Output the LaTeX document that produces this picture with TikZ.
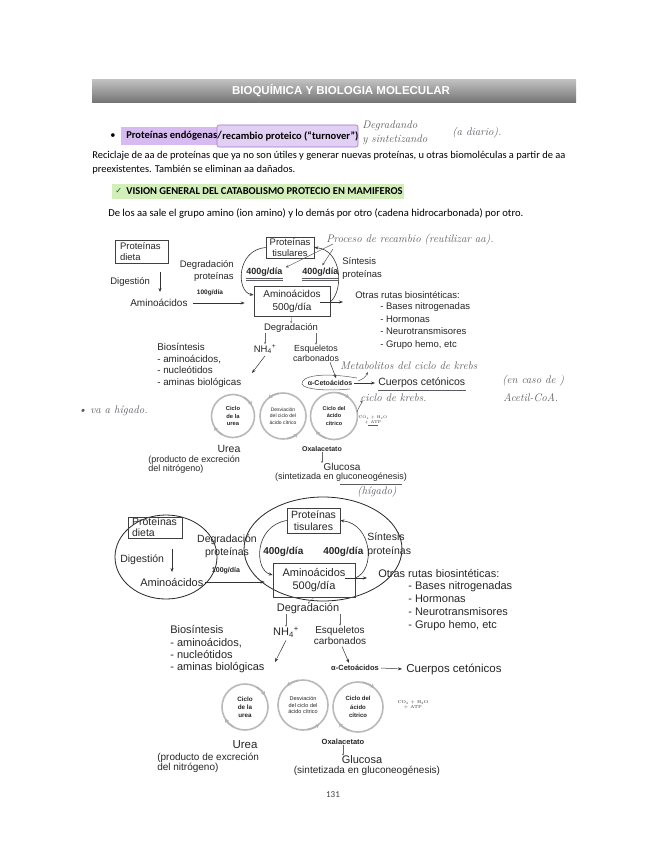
\documentclass[tikz,border=0pt]{standalone}
\usepackage{fontspec}
\newfontfamily\calibri{Carlito}
\newfontfamily\arial{Liberation Sans}
\newfontfamily\dejavu{DejaVu Sans}
\usepackage{xcolor}
\usetikzlibrary{arrows.meta}
\definecolor{lila}{RGB}{214,186,240}
\definecolor{lilaborde}{RGB}{160,120,205}
\definecolor{verdeclaro}{RGB}{210,238,186}
\definecolor{lapiz}{RGB}{90,90,98}
\newcommand{\fsz}[2]{\fontsize{#1}{#2}\selectfont}

\begin{document}
\begin{tikzpicture}[x=1pt,y=-1pt,line width=0.6pt,
  txt/.style={inner sep=0pt,text=black!85,font=\arial\fsz{9.5}{12}},
  caja/.style={draw=black!75,line width=0.6pt,inner sep=1pt},
  negr/.style={inner sep=0pt,text=black!85,font=\arial\bfseries\fsz{7}{8}},
  flecha/.style={-{Stealth[length=4pt,width=3pt]},black!80},
  chico/.style={-{Stealth[length=2pt,width=2pt]},line width=0.3pt,black!60},
  punta/.style={draw=gray!60,line width=1.6pt,-{Stealth[length=4pt,width=4.5pt]}},
  ciclo/.style={circle,draw=gray!55,line width=1.6pt,inner sep=0pt,minimum size=44pt,align=center,text=black!85},
  mano/.style={inner sep=0pt,text=lapiz,font=\rmfamily\itshape\fsz{11}{13}},
  trazo/.style={lapiz,line width=0.5pt},
  cuerpo/.style={inner sep=0pt,anchor=west,font=\calibri\fsz{10.45}{12}}]
\useasboundingbox (0,0) rectangle (655,848);
\fill[white] (0,0) rectangle (655,848);

% cabecera
\shade[top color=gray!50,bottom color=gray!90!black] (92,80) rectangle (576,103);
\node[inner sep=0pt,text=white,font=\arial\bfseries\fsz{11.5}{13}] (titulo) at (341,91) {BIOQUÍMICA Y BIOLOGIA MOLECULAR};

% texto
\fill[lila] (121,127) rectangle (219,145);
\draw[lilaborde,fill=lila!70,rounded corners=2pt] (217,125) rectangle (358,147);
\node[cuerpo] (vineta) at (110,136) {•};
\node[cuerpo,font=\calibri\bfseries\fsz{10.5}{12}] (endo) at (126,136) {Proteínas endógenas/};
\node[cuerpo,font=\calibri\bfseries\fsz{10.5}{12}] (reca) at (endo.east) {recambio proteico (“turnover”)};
\node[mano,anchor=west] (degr) at (362,126) {Degradando};
\node[mano,anchor=west] (sint) at (362,140) {y sintetizando};
\node[mano,anchor=west] (diar) at (452,133) {(a diario).};
\node[cuerpo] (par1) at (92,156) {Reciclaje de aa de proteínas que ya no son útiles y generar nuevas proteínas, u otras biomoléculas a partir de aa};
\node[cuerpo] (par2) at (92,170) {preexistentes. También se eliminan aa dañados.};
\fill[verdeclaro] (112,184) rectangle (404,199);
\node[cuerpo,font=\dejavu\fsz{8}{10},text=green!40!black] (chk) at (115,191) {✓};
\node[cuerpo,font=\calibri\bfseries\fsz{10.5}{12}] (visi) at (126,191) {VISION GENERAL DEL CATABOLISMO PROTECIO EN MAMIFEROS};
\node[cuerpo,font=\calibri\fsz{10.6}{12}] (dela) at (108,214) {De los aa sale el grupo amino (ion amino) y lo demás por otro (cadena hidrocarbonada) por otro.};

% ---------- primer esquema ----------
\node[txt,caja,font=\arial\fsz{9.5}{10.5},text width=43pt,align=left,inner xsep=5pt,minimum height=23pt] (dieta1) at (141.5,251.5) {Proteínas\\dieta};
\node[txt,align=right,anchor=east] (deg1) at (234,271) {Degradación\\proteínas};
\node[txt,anchor=west] (dig1) at (110,282) {Digestión};
\coordinate (dg1) at (160,272);
\coordinate (dg1f) at (160,292);
\draw[flecha] (dg1) -- (dg1f);
\node[txt,anchor=west,font=\arial\fsz{10}{12}] (amd1) at (130,303) {Aminoácidos};
\node[txt,caja,font=\arial\fsz{9.5}{10.5},align=center,minimum width=48pt,minimum height=21pt] (tis1) at (290,247.5) {Proteínas\\tisulares};
\node[txt,caja,font=\arial\fsz{10}{13},align=center,minimum width=76pt,minimum height=30pt] (am1) at (292,301) {Aminoácidos\\500g/día};
\draw[flecha] ([xshift=5pt]amd1.east) -- ([xshift=-9pt]am1.west |- amd1.east);
\node[negr,font=\arial\bfseries\fsz{6.5}{8}] (cien1) at (210,293) {100g/día};
\node[negr,anchor=west,font=\arial\bfseries\fsz{9}{11}] (g1l) at (246,272) {400g/día};
\node[negr,anchor=west,font=\arial\bfseries\fsz{9}{11}] (g1r) at (302,272) {400g/día};
\draw[flecha] (tis1.west) .. controls (236,250) and (236,292) .. ([yshift=6pt]am1.west);
\draw[flecha] ([yshift=-1pt]am1.east) .. controls (344,290) and (342,250) .. (tis1.east);
\node[txt,anchor=west,align=left,font=\arial\fsz{9.5}{12.5}] (sin1) at (342,268.5) {Síntesis\\proteínas};
\node[txt,anchor=west] (otr1) at (355,295) {Otras rutas biosintéticas:};
\draw[flecha] ([xshift=-10pt,yshift=-1pt]am1.east) -- ([xshift=-12pt,yshift=-7pt]otr1.west);
\node[txt,anchor=west,align=left,font=\arial\fsz{9.5}{12.7}] (lis1) at (380,326) {- Bases nitrogenadas\\- Hormonas\\- Neurotransmisores\\- Grupo hemo, etc};
\node[txt] (deg1b) at (291,328) {Degradación};
\node[txt] (nh1) at (265,349) {NH\textsubscript{4}\textsuperscript{+}};
\node[txt,align=center,font=\arial\fsz{8.8}{10.5}] (esq1) at (316,353.5) {Esqueletos\\carbonados};
\node[txt,anchor=west,align=left,font=\arial\fsz{9.8}{11.7}] (bio1) at (157,365.5) {Biosíntesis\\- aminoácidos,\\- nucleótidos\\- aminas biológicas};
\draw[chico] (am1.south) -- (deg1b.north);
\draw[chico] (deg1b.south -| nh1.north) -- (nh1.north);
\draw[chico] (deg1b.south -| esq1.north) -- (esq1.north);
\coordinate (nh1f) at (252,373);
\draw[flecha,line width=0.5pt] ([yshift=-2pt]nh1.south) -- (nh1f);
\node[negr] (ket1) at (330,383) {α-Cetoácidos};
\draw[flecha,line width=0.5pt] ([xshift=14pt]esq1.south) -- ([xshift=6pt,yshift=2pt]ket1.north);
\node[txt,anchor=west,font=\arial\fsz{10.5}{12}] (cue1) at (378,383) {Cuerpos cetónicos};
\draw[flecha,line width=0.5pt] ([xshift=2pt]ket1.east) -- ([xshift=-3pt]cue1.west);
% ciclos
\node[ciclo,minimum size=43pt,font=\arial\bfseries\fsz{5.8}{7.5}] (cu1) at (233,416) {Ciclo\\de la\\urea};
\node[ciclo,minimum size=46pt,font=\arial\fsz{5}{6.2}] (cd1) at (283,416) {Desviación\\del ciclo del\\ácido cítrico};
\node[ciclo,minimum size=47pt,font=\arial\bfseries\fsz{5.5}{7.5}] (cc1) at (334,416) {Ciclo del\\ácido\\cítrico};
\draw[punta] (cu1.center) ++(300:21.5) arc (300:330:21.5);
\draw[punta] (cu1.center) ++(120:21.5) arc (120:150:21.5);
\draw[punta] (cd1.center) ++(80:23) arc (80:50:23);
\draw[punta] (cd1.center) ++(260:23) arc (260:230:23);
\draw[punta] (cc1.center) ++(110:23.5) arc (110:140:23.5);
\draw[punta] (cc1.center) ++(280:23.5) arc (280:310:23.5);
\node[inner sep=0pt,align=center,font=\rmfamily\fsz{4}{4.8},text=black!80] (co1) at (373,420) {CO\textsubscript{2} + H\textsubscript{2}O\\+ ATP};
\node[txt,font=\arial\fsz{10.5}{12}] (urea1) at (229,449) {Urea};
\node[txt,anchor=west,align=left,font=\arial\fsz{9}{9.6}] (prod1) at (148,464.5) {(producto de excreción\\del nitrógeno)};
\node[negr] (oxa1) at (322,449) {Oxalacetato};
\node[txt,font=\arial\fsz{10}{12}] (glu1) at (342,467) {Glucosa};
\node[txt,font=\arial\fsz{9}{11}] (sint1) at (341,477.5) {(sintetizada en gluconeogénesis)};
\draw[chico] (oxa1.south) -- (oxa1.south |- glu1.north);

% notas a mano
\node[mano,anchor=west] (proc1) at (326,240) {Proceso de recambio (reutilizar aa).};
\draw[trazo,-{Stealth[length=3pt,width=2.5pt]}] ([xshift=7pt,yshift=-4pt]proc1.west) -- ([xshift=3pt]g1l.north east);
\draw[trazo,-{Stealth[length=3pt,width=2.5pt]}] ([xshift=7pt,yshift=-9pt]proc1.west) -- ([xshift=2pt,yshift=2pt]g1r.north);
\draw[trazo] ([yshift=-2pt]g1l.south west) -- ([yshift=-2pt]g1l.south east);
\draw[trazo] ([yshift=-3.5pt]g1l.south west) -- ([yshift=-3.5pt]g1l.south east);
\draw[trazo] ([yshift=-2pt]g1r.south west) -- ([yshift=-2pt]g1r.south east);
\draw[trazo] ([yshift=-3.5pt]g1r.south west) -- ([yshift=-3.5pt]g1r.south east);
\node[mano,anchor=west] (meta1) at (340,366) {Metabolitos del ciclo de krebs};
\draw[trazo] (357,378) .. controls (322,372) and (301,376) .. (302,384) .. controls (304,390) and (330,391) .. (350,389);
\draw[trazo,-{Stealth[length=3pt,width=2.5pt]}] (358,381) .. controls (364,379) and (366,376) .. (368,372);
\draw[trazo] ([yshift=-2pt]cue1.south west) -- ([yshift=-2pt]cue1.south east);
\node[mano,anchor=west] (encaso1) at (502,381) {(en caso de )};
\node[mano,anchor=west] (acet1) at (503,398) {Acetil-CoA.};
\node[mano,anchor=west] (kreb1) at (360,398) {ciclo de krebs.};
\draw[trazo,-{Stealth[length=3pt,width=2.5pt]}] (357,412) .. controls (360,404) and (363,402) .. ([yshift=-3pt]kreb1.west);
\draw[trazo] ([yshift=-1pt]co1.south) ++(-5,0) -- ++(10,0);
\draw[trazo] ([xshift=-67pt,yshift=-2pt]sint1.south east) -- ([xshift=-5pt,yshift=-2pt]sint1.south east);
\node[mano] (higa1) at (377,492) {(hígado)};
\node[mano,anchor=west] (vaah) at (78,411) {• va a hígado.};

% ---------- segundo esquema ----------
\draw[line width=0.8pt,black!85] (166,557) ellipse [x radius=51,y radius=42];
\draw[line width=0.8pt,black!85] (323,549) ellipse [x radius=79,y radius=52];
\node[txt,caja,font=\arial\fsz{10.5}{11},text width=46pt,align=left,inner xsep=4pt,minimum height=21pt] (dieta2) at (155,527.5) {Proteínas\\dieta};
\node[txt,align=center,font=\arial\fsz{10.5}{13}] (deg2) at (227,546.5) {Degradación\\proteínas};
\node[txt,anchor=west,font=\arial\fsz{10.5}{12}] (dig2) at (120,560) {Digestión};
\coordinate (dg2) at (172,549);
\coordinate (dg2f) at (172,572);
\draw[flecha] (dg2) -- (dg2f);
\node[txt,anchor=west,font=\arial\fsz{11}{13}] (amd2) at (140,582) {Aminoácidos};
\node[txt,caja,font=\arial\fsz{10.5}{11.5},align=center,minimum width=53pt,minimum height=25pt] (tis2) at (313.5,520.5) {Proteínas\\tisulares};
\node[txt,caja,font=\arial\fsz{11}{13.5},align=center,minimum width=82pt,minimum height=34pt] (am2) at (314,580) {Aminoácidos\\500g/día};
\draw[flecha] ([xshift=1pt]amd2.east) -- ([xshift=-8pt]am2.west |- amd2.east);
\node[negr,font=\arial\bfseries\fsz{7}{8}] (cien2) at (226,571) {100g/día};
\node[negr,anchor=west,font=\arial\bfseries\fsz{10}{12}] (g2l) at (263,552) {400g/día};
\node[negr,anchor=west,font=\arial\bfseries\fsz{10}{12}] (g2r) at (323,552) {400g/día};
\draw[flecha] (tis2.west) .. controls (254,526) and (254,570) .. ([yshift=5pt]am2.west);
\draw[flecha] ([yshift=2pt]am2.east) .. controls (376,570) and (372,524) .. (tis2.east);
\node[txt,anchor=west,align=left,font=\arial\fsz{10.5}{14.5}] (sin2) at (367,544.5) {Síntesis\\proteínas};
\node[txt,anchor=west,font=\arial\fsz{11}{13}] (otr2) at (378,573) {Otras rutas biosintéticas:};
\draw[flecha] ([xshift=-10pt,yshift=2pt]am2.east) -- ([xshift=-11pt,yshift=-5pt]otr2.west);
\node[txt,anchor=west,align=left,font=\arial\fsz{11}{13}] (lis2) at (408,606.5) {- Bases nitrogenadas\\- Hormonas\\- Neurotransmisores\\- Grupo hemo, etc};
\node[txt,font=\arial\fsz{11}{13}] (deg2b) at (308,609) {Degradación};
\node[txt,font=\arial\fsz{11}{13}] (nh2) at (286,632) {NH\textsubscript{4}\textsuperscript{+}};
\node[txt,align=center,font=\arial\fsz{10}{11}] (esq2) at (340,635) {Esqueletos\\carbonados};
\node[txt,anchor=west,align=left,font=\arial\fsz{11}{12.3}] (bio2) at (170,649.5) {Biosíntesis\\- aminoácidos,\\- nucleótidos\\- aminas biológicas};
\draw[chico] (am2.south) -- (deg2b.north);
\draw[chico] (deg2b.south -| nh2.north) -- (nh2.north);
\draw[chico] (deg2b.south -| esq2.north) -- (esq2.north);
\coordinate (nh2f) at (275,662);
\draw[flecha,line width=0.5pt] ([yshift=-3pt]nh2.south) -- (nh2f);
\node[negr,font=\arial\bfseries\fsz{7.5}{9}] (ket2) at (355,668) {α-Cetoácidos};
\draw[flecha,line width=0.5pt] ([xshift=2pt,yshift=-2pt]esq2.south) -- ([xshift=-6pt,yshift=2pt]ket2.north);
\node[txt,anchor=west,font=\arial\fsz{11.5}{13}] (cue2) at (406,669) {Cuerpos cetónicos};
\draw[flecha,line width=0.5pt] ([xshift=2pt]ket2.east) -- ([xshift=-4pt]cue2.west);
\node[ciclo,minimum size=46pt,font=\arial\bfseries\fsz{6.3}{8.2}] (cu2) at (245,707) {Ciclo\\de la\\urea};
\node[ciclo,minimum size=50pt,font=\arial\fsz{5.5}{6.8}] (cd2) at (303,705) {Desviación\\del ciclo del\\ácido cítrico};
\node[ciclo,minimum size=50pt,font=\arial\bfseries\fsz{6}{8.2}] (cc2) at (358,707) {Ciclo del\\ácido\\cítrico};
\draw[punta] (cu2.center) ++(300:23) arc (300:330:23);
\draw[punta] (cu2.center) ++(120:23) arc (120:150:23);
\draw[punta] (cd2.center) ++(80:25) arc (80:50:25);
\draw[punta] (cd2.center) ++(260:25) arc (260:230:25);
\draw[punta] (cc2.center) ++(110:25) arc (110:140:25);
\draw[punta] (cc2.center) ++(280:25) arc (280:310:25);
\node[inner sep=0pt,align=center,font=\rmfamily\fsz{4.3}{5},text=black!80] (co2) at (413,705) {CO\textsubscript{2} + H\textsubscript{2}O\\+ ATP};
\node[txt,font=\arial\fsz{11.5}{13}] (urea2) at (245,745) {Urea};
\node[txt,anchor=west,align=left,font=\arial\fsz{10}{10.3}] (prod2) at (157,763) {(producto de excreción\\del nitrógeno)};
\node[negr,font=\arial\bfseries\fsz{7.5}{9}] (oxa2) at (343,742) {Oxalacetato};
\node[txt,font=\arial\fsz{11}{13}] (glu2) at (362,760) {Glucosa};
\node[txt,font=\arial\fsz{10}{12}] (sint2) at (367,770.5) {(sintetizada en gluconeogénesis)};
\draw[chico] (oxa2.south) -- (oxa2.south |- glu2.north);

\node[inner sep=0pt,font=\calibri\fsz{9}{11},text=black!75] (pag) at (333,795) {131};
\end{tikzpicture}
\end{document}
